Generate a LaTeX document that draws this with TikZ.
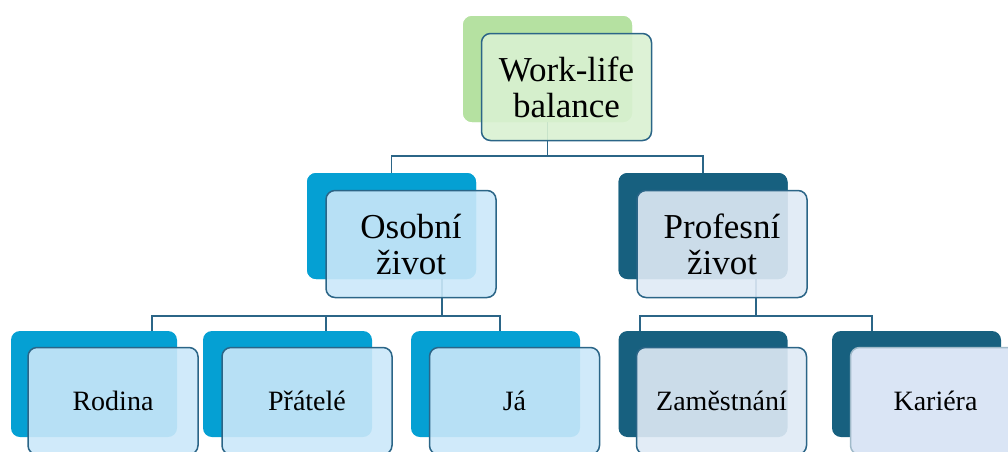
\documentclass[tikz,border=0pt]{standalone}
\usepackage{fontspec}
\setmainfont{Liberation Serif}
\usetikzlibrary{calc}
\definecolor{lineblue}{HTML}{2B6587}
\definecolor{greenback}{HTML}{B5E1A1}
\definecolor{greenfront}{HTML}{D9F1D1}
\definecolor{cyanback}{HTML}{05A0D3}
\definecolor{cyanfront}{HTML}{CBE8F9}
\definecolor{tealback}{HTML}{17607F}
\definecolor{tealfront}{HTML}{DFEAF5}
\definecolor{karfront}{HTML}{DAE5F5}
\tikzset{
  backbox/.style={rectangle, rounded corners=9pt, minimum width=169pt, minimum height=106pt, inner sep=0pt, draw=none},
  frontbox/.style={rectangle, rounded corners=9pt, minimum width=170pt, minimum height=107pt, inner sep=0pt, draw=lineblue, line width=1.5pt, fill opacity=0.9, text opacity=1, align=center, text=black},
  bigtext/.style={font=\fontsize{35}{36}\selectfont},
  smalltext/.style={font=\fontsize{28}{30}\selectfont},
  conn/.style={draw=lineblue, line width=1.5pt}
}
\begin{document}
\begin{tikzpicture}[x=1pt,y=-1pt]
\useasboundingbox (0,0) rectangle (1008,451);
\clip (0,0) rectangle (1008,451);
% back boxes
\node[backbox, fill=greenback] (wb) at (547.5,69) {};
\node[backbox, fill=cyanback] (ob) at (391.5,226) {};
\node[backbox, fill=tealback] (pb) at (703,226) {};
\node[backbox, fill=cyanback, minimum width=166pt] (rb) at (94,384) {};
\node[backbox, fill=cyanback] (tb) at (287.5,384) {};
\node[backbox, fill=cyanback] (jb) at (495.5,384) {};
\node[backbox, fill=tealback] (zb) at (703,384) {};
\node[backbox, fill=tealback] (kb) at (916.5,384) {};
% connectors
\coordinate (bus1) at (547.5,156);
\draw[conn] (wb.south) -- (bus1);
\draw[conn] (ob.north) |- (bus1) -| (pb.north);
\coordinate (os) at ($(ob.south)+(50.5,0)$);
\coordinate (bus2) at (442,316);
\draw[conn] (os) -- (bus2);
\draw[conn] ($(rb.north)+(58,0)$) |- (bus2) -| ($(jb.north)+(4.5,0)$);
\draw[conn] ($(tb.north)+(38.5,0)$) -- ($(tb.north)+(38.5,-15)$);
\coordinate (ps) at ($(pb.south)+(53,0)$);
\coordinate (bus3) at (756,316);
\draw[conn] (ps) -- (bus3);
\draw[conn] ($(zb.north)+(-63,0)$) |- (bus3) -| ($(kb.north)+(-44.5,0)$);
% redraw back boxes on top of connector stubs
\node[backbox, fill=greenback] at (wb) {};
\node[backbox, fill=cyanback] at (ob) {};
\node[backbox, fill=tealback] at (pb) {};
% front boxes
\node[frontbox, fill=greenfront, bigtext] (wf) at (566.5,87) {Work-life\\balance};
\node[frontbox, fill=cyanfront, bigtext] (of) at (411,244) {Osobní\\život};
\node[frontbox, fill=tealfront, bigtext] (pf) at (722,244) {Profesní\\život};
\node[frontbox, fill=cyanfront, smalltext] (rf) at (113,401) {Rodina};
\node[frontbox, fill=cyanfront, smalltext] (tf) at (307,401) {Přátelé};
\node[frontbox, fill=cyanfront, smalltext] (jf) at (514.5,401) {Já};
\node[frontbox, fill=tealfront, smalltext] (zf) at (721.5,401) {Zaměstnání};
\node[frontbox, fill=karfront, fill opacity=1, draw=lineblue!45, smalltext] (kf) at (935.5,401) {Kariéra};
\end{tikzpicture}
\end{document}
